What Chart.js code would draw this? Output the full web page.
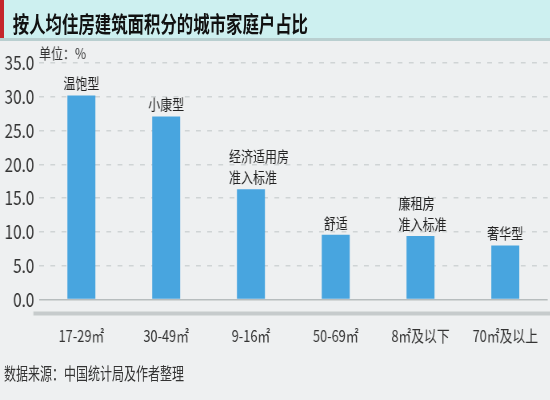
<!DOCTYPE html>
<html lang="zh">
<head>
<meta charset="utf-8">
<script src="https://cdn.jsdelivr.net/npm/chart.js@4"></script>
<style>
html, body { margin: 0; padding: 0; width: 550px; height: 400px; overflow: hidden; background: #eef0f1; }
#lienzo { position: absolute; left: 0; top: 0; width: 700px; height: 400px; transform: scaleX(0.8); transform-origin: 0 0; font-family: "Noto Sans CJK SC", sans-serif; }
#cabecera { position: absolute; left: 0; top: 0; width: 700px; height: 38px; background: #cdf0f0; border-bottom: 3px solid #b9cfd0; }
#cabecera .marca { position: absolute; left: 0; top: 0; width: 5px; height: 38px; background: #c4262c; }
#cabecera h1 { position: absolute; left: 16px; top: 2px; margin: 0; font-size: 20.5px; line-height: 40px; font-weight: bold; color: #111; white-space: nowrap; transform: scaleY(1.08); transform-origin: 0 50%; }
#grafica { position: absolute; left: 0; top: 41px; }
#fuente { position: absolute; left: 5px; top: 363px; font-size: 15px; line-height: 20px; color: #333; white-space: nowrap; transform: scaleY(1.12); transform-origin: 0 50%; }
</style>
</head>
<body>
<div id="lienzo">
  <div id="cabecera"><div class="marca"></div><h1>按人均住房建筑面积分的城市家庭户占比</h1></div>
  <canvas id="grafica" width="700" height="310"></canvas>
  <div id="fuente">数据来源：中国统计局及作者整理</div>
</div>
<script>
// Datos de la gráfica
var categorias = ["17-29㎡", "30-49㎡", "9-16㎡", "50-69㎡", "8㎡及以下", "70㎡及以上"];
var porcentajes = [30.2, 27.1, 16.3, 9.6, 9.4, 8.0];
var etiquetasBarra = [["温饱型"], ["小康型"], ["经济适用房", "准入标准"], ["舒适"], ["廉租房", "准入标准"], ["奢华型"]];
var ticksY = [0, 5, 10, 15, 20, 25, 30, 35];
var unidad = "单位：%";

var fuenteCJK = '"Noto Sans CJK SC", sans-serif';

// Plugin para las etiquetas sobre las barras, la unidad y la franja bajo el eje
var pluginEtiquetas = {
    id: 'etiquetas',
    afterDatasetsDraw: function (chart) {
        var ctx = chart.ctx;
        var area = chart.chartArea;
        var meta = chart.getDatasetMeta(0);
        ctx.save();
        // franja gris bajo la línea cero
        ctx.fillStyle = '#c6cbcc';
        ctx.fillRect(area.left - 7, area.bottom + 12, chart.width, 4);

        ctx.fillStyle = '#222';
        ctx.font = '15px ' + fuenteCJK;
        ctx.textBaseline = 'alphabetic';
        meta.data.forEach(function (barra, i) {
            var lineas = etiquetasBarra[i];
            if (lineas.length === 1) {
                ctx.textAlign = 'center';
                ctx.fillText(lineas[0], barra.x, barra.y - 6);
            } else {
                ctx.textAlign = 'left';
                var izq = barra.x - barra.width / 2 - 10;
                for (var k = 0; k < lineas.length; k++) {
                    ctx.fillText(lineas[k], izq, barra.y - 6 - (lineas.length - 1 - k) * 21);
                }
            }
        });

        // unidad
        ctx.textAlign = 'left';
        ctx.textBaseline = 'middle';
        ctx.fillStyle = '#333';
        ctx.fillText(unidad, area.left, area.top - 10);
        ctx.restore();
    }
};

var ctx = document.getElementById('grafica').getContext('2d');
var grafica = new Chart(ctx, {
    type: 'bar',
    data: {
        labels: categorias,
        datasets: [{
            data: porcentajes,
            backgroundColor: '#48a5df',
            borderWidth: 0,
            barPercentage: 0.33,
            categoryPercentage: 1
        }]
    },
    options: {
        responsive: false,
        animation: false,
        layout: { padding: { top: 22, right: 6, left: 0, bottom: 0 } },
        plugins: {
            legend: { display: false },
            tooltip: { enabled: false }
        },
        scales: {
            x: {
                grid: { display: false, drawTicks: false },
                border: { display: false },
                ticks: {
                    padding: 27,
                    color: '#333',
                    font: { family: fuenteCJK, size: 16 },
                    maxRotation: 0
                },
                afterFit: function (escala) { escala.height = 51.5; }
            },
            y: {
                min: 0,
                max: 35,
                afterBuildTicks: function (escala) {
                    escala.ticks = ticksY.map(function (v) { return { value: v }; });
                },
                grid: {
                    drawTicks: false,
                    color: function (c) { return c.tick && c.tick.value === 0 ? '#b7bdbe' : '#cfd4d5'; },
                    lineWidth: 1.5
                },
                border: {
                    display: false,
                    dash: function (c) { return c.tick && c.tick.value === 0 ? [] : [6, 8]; }
                },
                ticks: {
                    padding: 6,
                    color: '#333',
                    font: { family: fuenteCJK, size: 19 },
                    callback: function (v) { return Number(v).toFixed(1); }
                },
                afterFit: function (escala) { escala.width = 48.75; }
            }
        }
    },
    plugins: [pluginEtiquetas]
});
</script>
</body>
</html>
